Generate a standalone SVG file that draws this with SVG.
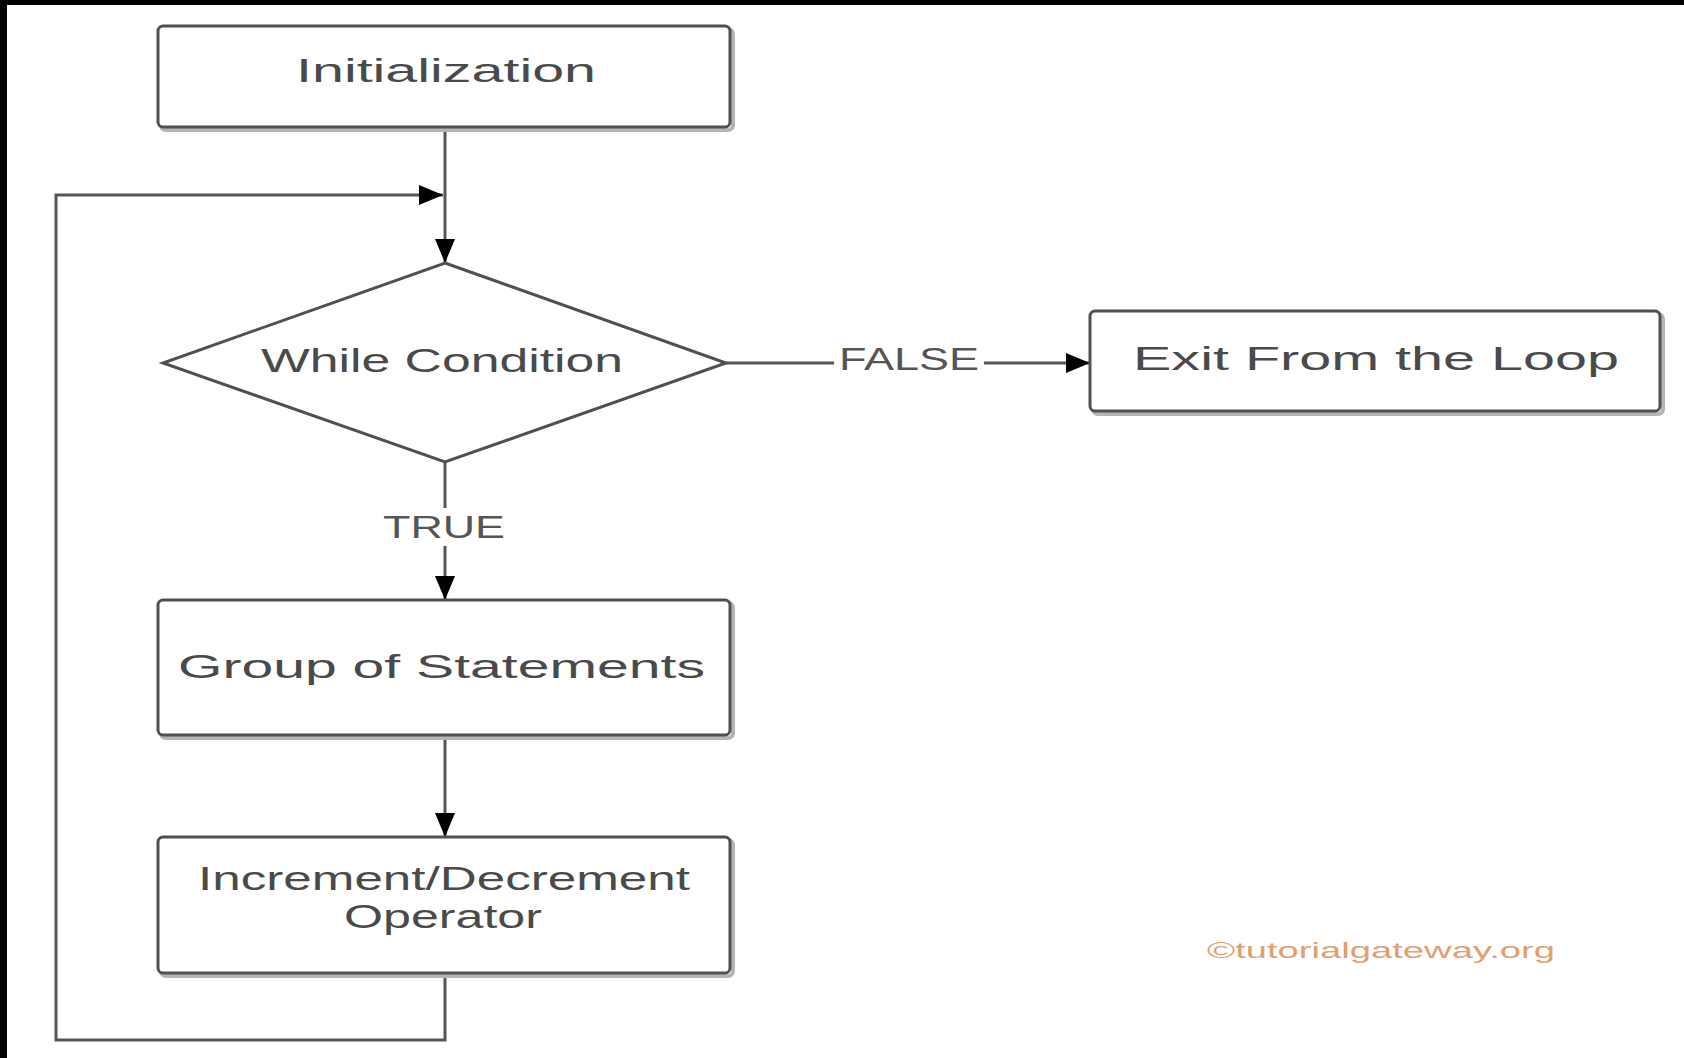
<svg xmlns="http://www.w3.org/2000/svg" width="1684" height="1058" viewBox="0 0 1684 1058">
<style>
.box{fill:#fff;stroke:#505050;stroke-width:3}
.shadow{fill:none;stroke:#b4b4b4;stroke-width:4}
.lbl{font-family:"Liberation Sans",Arial,sans-serif;font-size:34px;fill:#4a4a4a}
.edge{font-family:"Liberation Sans",Arial,sans-serif;font-size:32px;fill:#555}
.conn{fill:none;stroke:#555;stroke-width:3}
</style>
<defs>
<marker id="ah" viewBox="0 0 24 20" refX="24" refY="10" markerWidth="24" markerHeight="20" markerUnits="userSpaceOnUse" orient="auto">
<path d="M0,0 L24,10 L0,20 Z" fill="#000"/>
</marker>
</defs>
<rect x="0" y="0" width="1684" height="1058" fill="#fff"/>
<rect x="0" y="0" width="1684" height="5" fill="#000"/>
<rect x="0" y="0" width="7" height="1058" fill="#000"/>

<g id="connectors">
<line class="conn" x1="445" y1="127" x2="445" y2="263" marker-end="url(#ah)"/>
<polyline class="conn" points="445,973 445,1040 56,1040 56,195 443,195" marker-end="url(#ah)"/>
<line class="conn" x1="445" y1="462" x2="445" y2="508"/>
<line class="conn" x1="445" y1="546" x2="445" y2="600" marker-end="url(#ah)"/>
<line class="conn" x1="726" y1="363" x2="834" y2="363"/>
<line class="conn" x1="984" y1="363" x2="1090" y2="363" marker-end="url(#ah)"/>
<line class="conn" x1="445" y1="735" x2="445" y2="837" marker-end="url(#ah)"/>
<text class="edge" x="383" y="538" textLength="122" lengthAdjust="spacingAndGlyphs">TRUE</text>
<text class="edge" x="839" y="370" textLength="140" lengthAdjust="spacingAndGlyphs">FALSE</text>
</g>

<g id="init">
<rect class="shadow" x="161" y="29" width="572" height="101" rx="5"/>
<rect class="box" x="158" y="26" width="572" height="101" rx="5"/>
<text class="lbl" x="296" y="82" textLength="300" lengthAdjust="spacingAndGlyphs">Initialization</text>
</g>

<g id="condition">
<polygon class="box" points="445,263 726,363 445,462 163,363"/>
<text class="lbl" x="261" y="372" textLength="362" lengthAdjust="spacingAndGlyphs">While Condition</text>
</g>

<g id="exit">
<rect class="shadow" x="1093" y="314" width="570" height="100" rx="5"/>
<rect class="box" x="1090" y="311" width="570" height="100" rx="5"/>
<text class="lbl" x="1133" y="370" textLength="486" lengthAdjust="spacingAndGlyphs">Exit From the Loop</text>
</g>

<g id="statements">
<rect class="shadow" x="161" y="603" width="572" height="135" rx="5"/>
<rect class="box" x="158" y="600" width="572" height="135" rx="5"/>
<text class="lbl" x="178" y="678" textLength="527" lengthAdjust="spacingAndGlyphs">Group of Statements</text>
</g>

<g id="increment">
<rect class="shadow" x="161" y="840" width="572" height="136" rx="5"/>
<rect class="box" x="158" y="837" width="572" height="136" rx="5"/>
<text class="lbl" x="198" y="890" textLength="492" lengthAdjust="spacingAndGlyphs">Increment/Decrement</text>
<text class="lbl" x="344" y="928" textLength="198" lengthAdjust="spacingAndGlyphs">Operator</text>
</g>

<g id="watermark">
<text x="1207" y="958" font-family="'Liberation Sans',Arial,sans-serif" font-size="22" fill="#e0a070" textLength="348" lengthAdjust="spacingAndGlyphs">©tutorialgateway.org</text>
</g>
</svg>
